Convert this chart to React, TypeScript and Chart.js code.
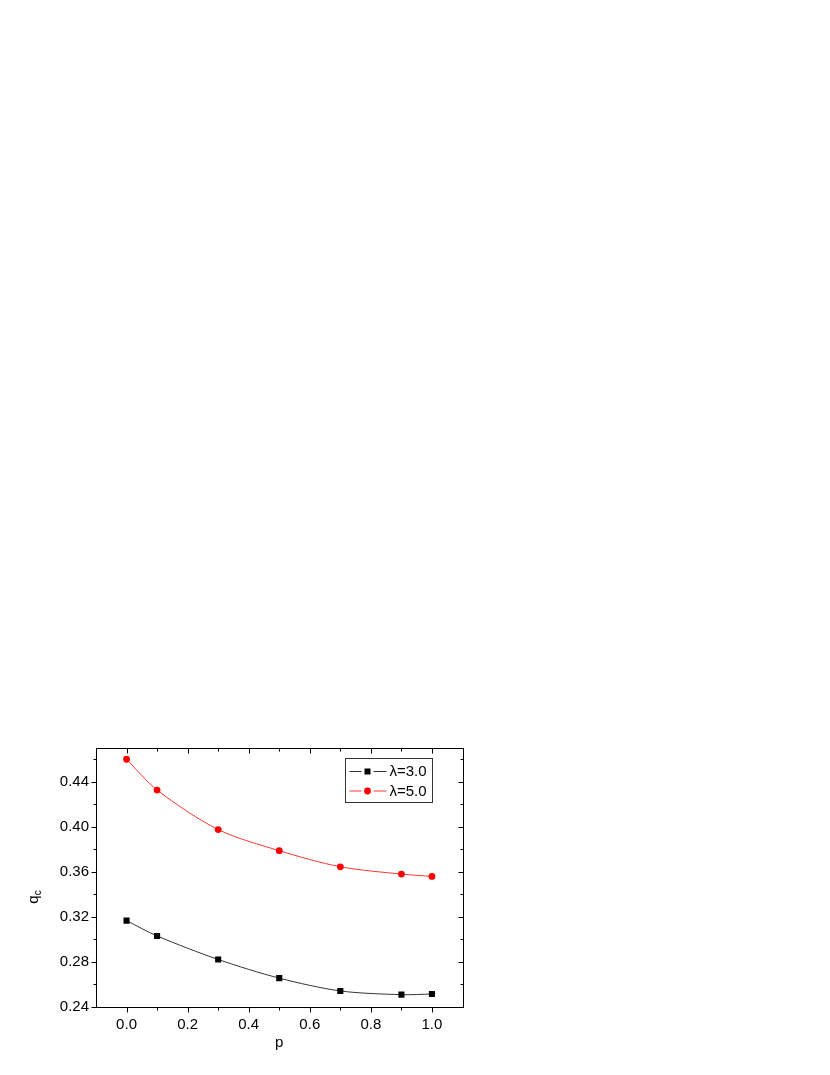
import React, { useEffect, useRef } from "react";
import { Chart, registerables } from "chart.js";
Chart.register(...registerables);

const pValues = [0.0, 0.1, 0.3, 0.5, 0.7, 0.9, 1.0];
const qLambda3 = [0.3165, 0.3029, 0.282, 0.2654, 0.254, 0.2507, 0.2513];
const qLambda5 = [0.46, 0.4326, 0.3975, 0.3787, 0.3644, 0.3579, 0.3558];
const seriesLabels = ["λ=3.0", "λ=5.0"];
const xTicks = [0.0, 0.2, 0.4, 0.6, 0.8, 1.0];
const xMinorTicks = [0.1, 0.3, 0.5, 0.7, 0.9];
const yTicks = [0.24, 0.28, 0.32, 0.36, 0.4, 0.44];
const yMinorTicks = [0.26, 0.3, 0.34, 0.38, 0.42, 0.46];
const xTitle = "p";
const yTitleMain = "q";
const yTitleSub = "c";

const FONT = "Arial, 'Liberation Sans', sans-serif";

const framePlugin = {
  id: "frameTicks",
  afterDraw(chart: any) {
    const { ctx, chartArea: ca, scales } = chart;
    const xs = scales.x;
    const ys = scales.y;
    ctx.save();
    ctx.strokeStyle = "#000";
    ctx.lineWidth = 1;
    ctx.strokeRect(Math.round(ca.left) + 0.5, Math.round(ca.top) + 0.5, Math.round(ca.right - ca.left), Math.round(ca.bottom - ca.top));
    const L = Math.round(ca.left) + 0.5;
    const R = Math.round(ca.right) + 0.5;
    const T = Math.round(ca.top) + 0.5;
    const B = Math.round(ca.bottom) + 0.5;
    ctx.beginPath();
    const xt = (vals: number[], len: number) => {
      vals.forEach((v) => {
        const px = Math.round(xs.getPixelForValue(v)) + 0.5;
        ctx.moveTo(px, B);
        ctx.lineTo(px, B + len);
        ctx.moveTo(px, T);
        ctx.lineTo(px, T + len);
      });
    };
    const yt = (vals: number[], len: number) => {
      vals.forEach((v) => {
        const py = Math.round(ys.getPixelForValue(v)) + 0.5;
        ctx.moveTo(L, py);
        ctx.lineTo(L - len, py);
        ctx.moveTo(R, py);
        ctx.lineTo(R - len, py);
      });
    };
    xt(xTicks, 5);
    xt(xMinorTicks, 3);
    yt(yTicks, 5);
    yt(yMinorTicks, 3);
    ctx.stroke();

    ctx.fillStyle = "#000";
    ctx.font = `15px ${FONT}`;
    ctx.textAlign = "center";
    ctx.textBaseline = "middle";
    ctx.fillText(xTitle, (ca.left + ca.right) / 2, 1043);

    ctx.save();
    ctx.translate(38, 897);
    ctx.rotate(-Math.PI / 2);
    ctx.textAlign = "left";
    ctx.textBaseline = "alphabetic";
    ctx.font = `15px ${FONT}`;
    const wq = ctx.measureText(yTitleMain).width;
    ctx.font = `10px ${FONT}`;
    const wc = ctx.measureText(yTitleSub).width;
    const start = -(wq + wc) / 2;
    ctx.font = `15px ${FONT}`;
    ctx.fillText(yTitleMain, start, 0);
    ctx.font = `10px ${FONT}`;
    ctx.fillText(yTitleSub, start + wq, 3);
    ctx.restore();

    const bx = Math.round(ca.right - 117.5) + 0.5;
    const by = Math.round(ca.top + 10) + 0.5;
    ctx.strokeStyle = "#333";
    ctx.lineWidth = 1;
    ctx.strokeRect(bx, by, 87, 44);
    const rows = [
      { y: ca.top + 23.5, color: "#000", shape: "rect" },
      { y: ca.top + 43, color: "#ff0000", shape: "circle" },
    ];
    rows.forEach((r, i) => {
      const mx = ca.right - 95;
      ctx.strokeStyle = r.color;
      ctx.lineWidth = 0.8;
      ctx.beginPath();
      ctx.moveTo(ca.right - 113, r.y);
      ctx.lineTo(mx - 6, r.y);
      ctx.moveTo(mx + 6, r.y);
      ctx.lineTo(ca.right - 76, r.y);
      ctx.stroke();
      ctx.fillStyle = r.color;
      if (r.shape === "rect") {
        ctx.fillRect(mx - 3, r.y - 3, 6, 6);
      } else {
        ctx.beginPath();
        ctx.arc(mx, r.y, 3.4, 0, Math.PI * 2);
        ctx.fill();
      }
      ctx.fillStyle = "#000";
      ctx.font = `15px ${FONT}`;
      ctx.textAlign = "left";
      ctx.textBaseline = "middle";
      ctx.fillText(seriesLabels[i], ca.right - 73, r.y + 0.5);
    });
    ctx.restore();
  },
};

export default function App() {
  const ref = useRef<HTMLCanvasElement | null>(null);
  useEffect(() => {
    if (!ref.current) return;
    const chart = new Chart(ref.current, {
      type: "line",
      data: {
        datasets: [
          {
            label: seriesLabels[0],
            data: pValues.map((p, i) => ({ x: p, y: qLambda3[i] })),
            borderColor: "#000",
            backgroundColor: "#000",
            borderWidth: 0.8,
            pointStyle: "rect",
            pointRadius: 4.3,
            pointBorderWidth: 0,
            pointBackgroundColor: "#000",
            tension: 0.3,
          },
          {
            label: seriesLabels[1],
            data: pValues.map((p, i) => ({ x: p, y: qLambda5[i] })),
            borderColor: "#ff0000",
            backgroundColor: "#ff0000",
            borderWidth: 0.8,
            pointStyle: "circle",
            pointRadius: 3.4,
            pointBorderWidth: 0,
            pointBackgroundColor: "#ff0000",
            tension: 0.3,
          },
        ],
      },
      options: {
        animation: false,
        responsive: false,
        maintainAspectRatio: false,
        layout: { padding: { left: 20, right: 367.5, top: 748, bottom: 0 } },
        plugins: { legend: { display: false }, tooltip: { enabled: false } },
        scales: {
          x: {
            type: "linear",
            min: -0.1,
            max: 1.1,
            grid: { display: false, drawTicks: false },
            border: { display: false },
            afterBuildTicks: (s: any) => {
              s.ticks = xTicks.map((v) => ({ value: v }));
            },
            afterFit: (s: any) => {
              s.height = 68.3;
            },
            ticks: {
              padding: 9,
              color: "#000",
              font: { family: FONT, size: 15 },
              maxRotation: 0,
              callback: (v: any) => Number(v).toFixed(1),
            },
          },
          y: {
            type: "linear",
            min: 0.24,
            max: 0.47,
            grid: { display: false, drawTicks: false },
            border: { display: false },
            afterBuildTicks: (s: any) => {
              s.ticks = yTicks.map((v) => ({ value: v }));
            },
            afterFit: (s: any) => {
              s.width = 76;
            },
            ticks: {
              padding: 7,
              color: "#000",
              font: { family: FONT, size: 15 },
              callback: (v: any) => Number(v).toFixed(2),
            },
          },
        },
      },
      plugins: [framePlugin],
    } as any);
    return () => chart.destroy();
  }, []);
  return (
    <div style={{ position: "absolute", left: 0, top: 0, width: 830, height: 1075, background: "#fff" }}>
      <canvas ref={ref} width={830} height={1075} style={{ display: "block" }} />
    </div>
  );
}
